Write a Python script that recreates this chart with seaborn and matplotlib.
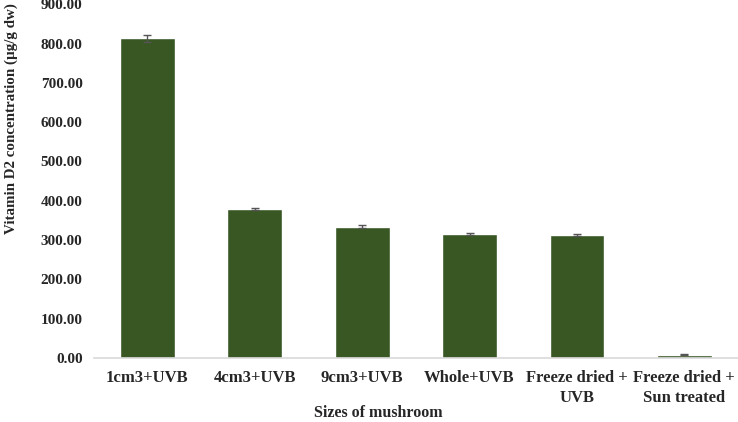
import matplotlib
matplotlib.use("Agg")
import matplotlib.pyplot as plt
import seaborn as sns
import pandas as pd

# -------------------- DATA --------------------
samples = ["1cm3+UVB", "4cm3+UVB", "9cm3+UVB", "Whole+UVB",
           "Freeze dried +\nUVB", "Freeze dried +\nSun treated"]
vitamin_d2 = [813.0, 379.0, 334.0, 314.0, 313.0, 8.5]
std_err = [8.0, 3.0, 4.0, 2.5, 3.0, 1.5]

df = pd.DataFrame({"sample": samples, "d2": vitamin_d2})

# -------------------- PLOT --------------------
sns.set_style("white")
plt.rcParams["font.family"] = ["Liberation Serif", "DejaVu Serif"]
plt.rcParams["font.weight"] = "bold"

fig = plt.figure(figsize=(7.38, 4.22), dpi=100)
ax = fig.add_axes([0.127, 0.152, 0.873, 0.838])

sns.barplot(data=df, x="sample", y="d2", color="#385723", saturation=1,
            width=0.51, errorbar=None, ax=ax)
ax.errorbar(range(len(samples)), vitamin_d2, yerr=std_err, fmt="none",
            ecolor="#555555", elinewidth=1, capsize=3, capthick=1)

ax.set_ylim(0, 900)
ax.set_xlim(-0.5, len(samples) - 0.5)
ax.set_yticks(range(0, 901, 100))
ax.set_yticklabels([f"{v:.2f}" for v in range(0, 901, 100)],
                   fontsize=11, fontweight="bold")
ax.set_xticks(range(len(samples)))
ax.set_xticklabels(samples, fontsize=12, fontweight="bold", linespacing=1.3)
ax.tick_params(axis="x", length=0, pad=9)
ax.tick_params(axis="y", length=0, pad=8)

for side in ["top", "right", "left"]:
    ax.spines[side].set_visible(False)
ax.spines["bottom"].set_color("#d9d9d9")
ax.spines["bottom"].set_linewidth(1.2)

ax.set_xlabel("Sizes of mushroom", fontsize=11.5, fontweight="bold")
ax.xaxis.set_label_coords(0.441, -0.133)
ax.set_ylabel("Vitamin D2 concentration (µg/g dw)", fontsize=10.8,
              fontweight="bold")
ax.yaxis.set_label_coords(-0.118, 0.678)

fig.savefig("out.png", dpi=100)
plt.close(fig)
